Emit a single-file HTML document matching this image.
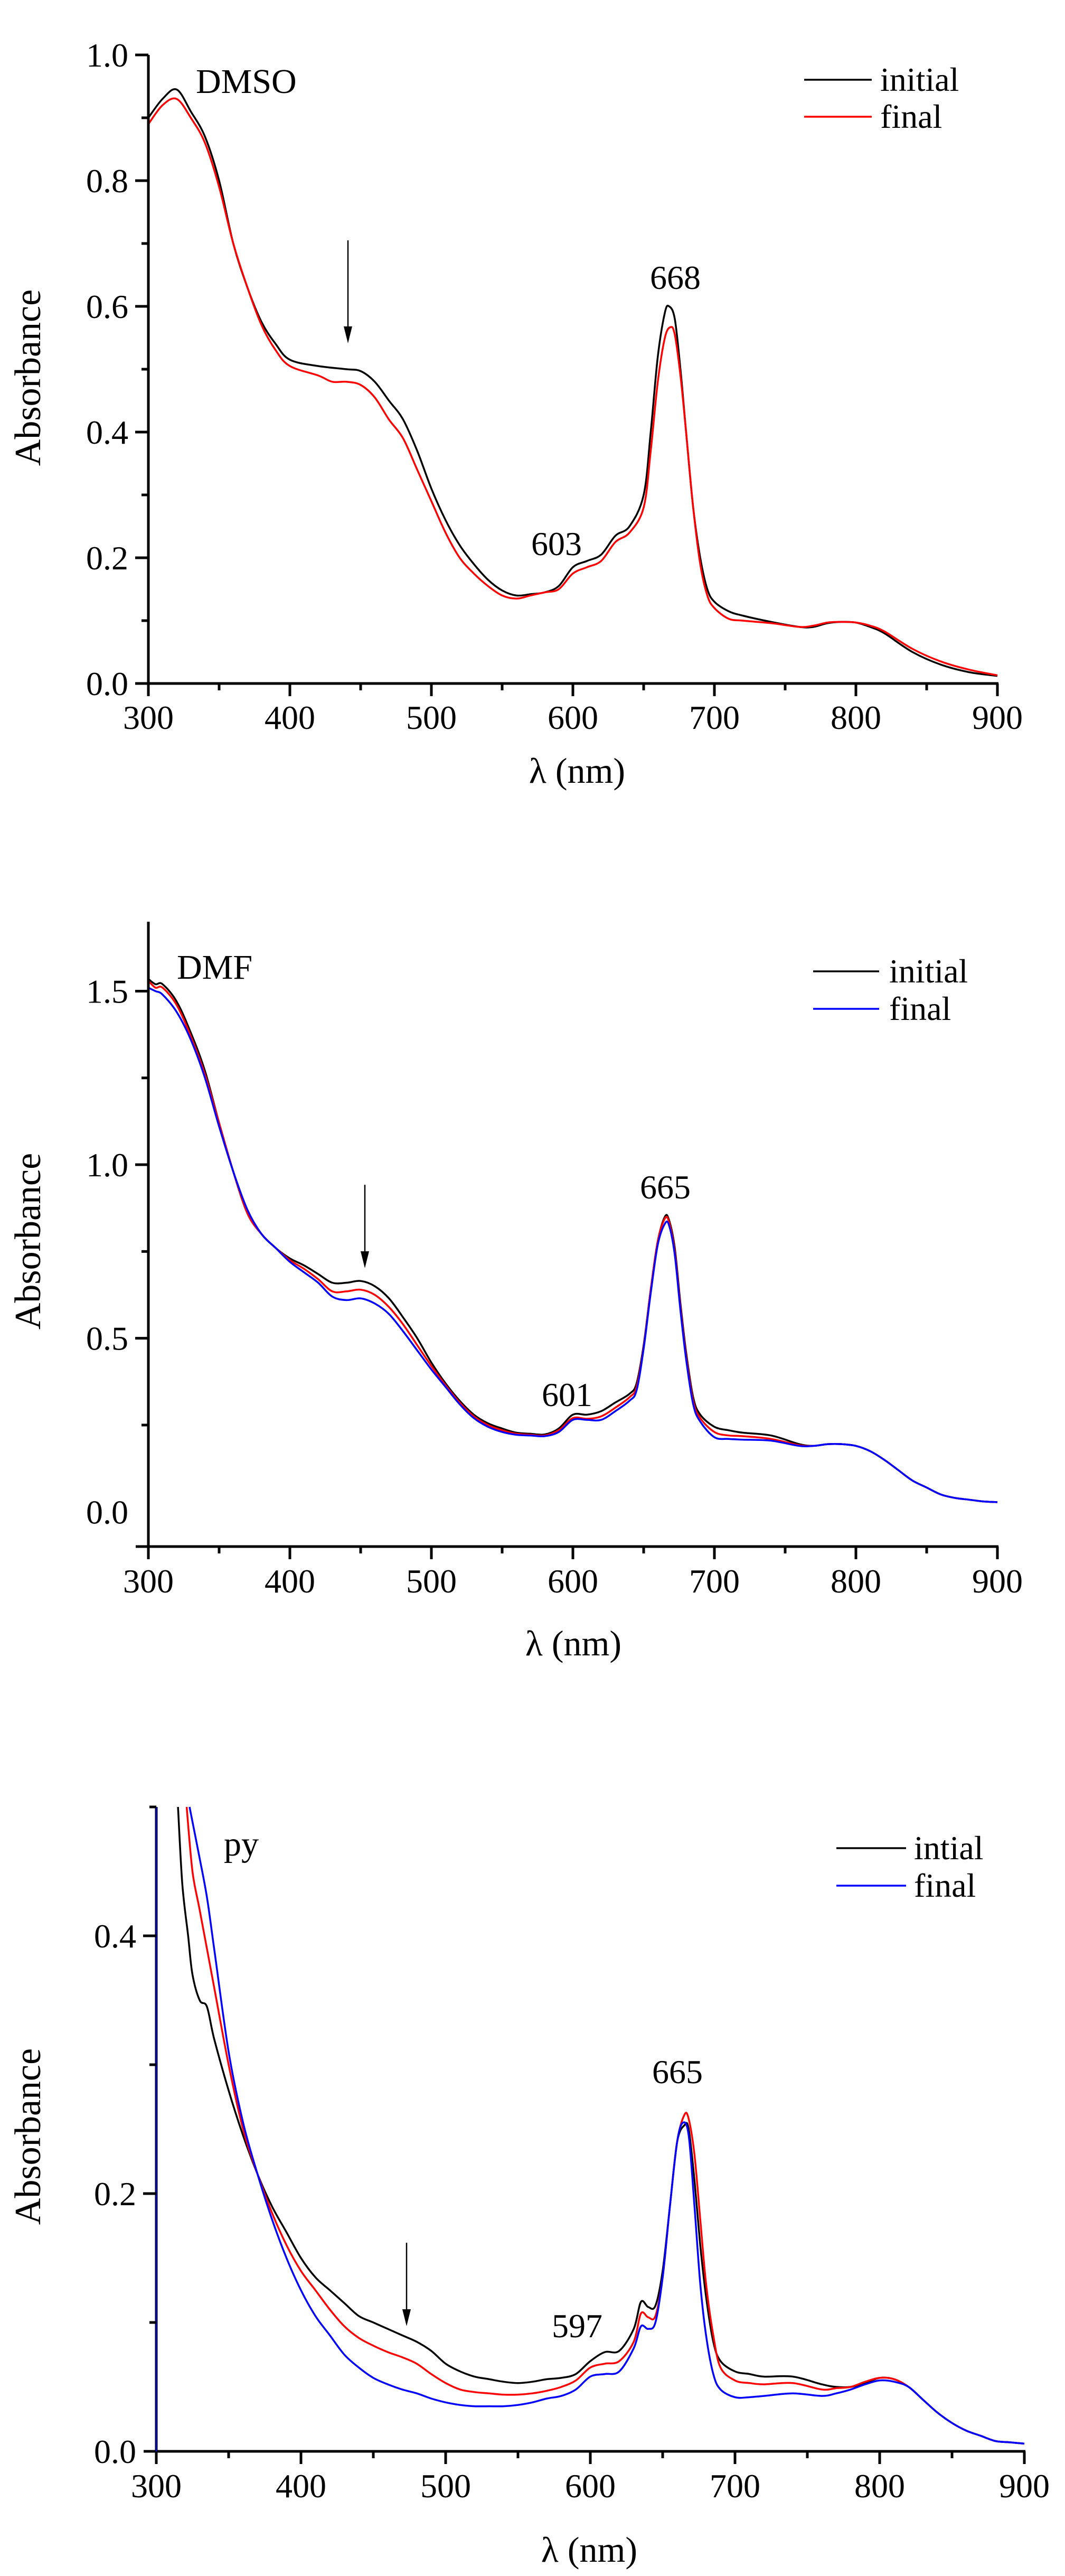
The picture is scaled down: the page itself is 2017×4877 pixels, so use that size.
<!DOCTYPE html>
<html><head><meta charset="utf-8"><style>
html,body{margin:0;padding:0;background:#fff;}
svg{display:block;font-family:"Liberation Serif","DejaVu Serif","Times New Roman",serif;}
text{font-family:"Liberation Serif","DejaVu Serif","Times New Roman",serif;fill:#000;}
</style></head><body>
<svg id="fig" width="2017" height="4877" viewBox="0 0 2017 4877" xmlns="http://www.w3.org/2000/svg"></svg>
<script>
// ---- Chart 1 (DMSO) data ----
const dmsoInitX = [300,310,320,330,340,350,360,370,380,390,400,420,440,450,460,470,480,490,500,510,520,530,540,550,560,570,580,590,600,610,620,630,640,650,655,660,665,668,672,676,680,685,690,695,700,710,720,740,760,770,780,790,800,810,820,840,860,880,900];
const dmsoInitY = [0.90,0.93,0.945,0.91,0.87,0.80,0.70,0.63,0.575,0.54,0.515,0.505,0.50,0.497,0.48,0.45,0.42,0.37,0.31,0.26,0.22,0.19,0.165,0.148,0.14,0.142,0.145,0.155,0.185,0.195,0.205,0.235,0.25,0.30,0.40,0.52,0.59,0.60,0.58,0.50,0.40,0.28,0.20,0.15,0.13,0.115,0.108,0.098,0.09,0.09,0.096,0.098,0.097,0.09,0.08,0.05,0.03,0.018,0.012];
const dmsoFinalX = [300,310,320,330,340,350,360,370,380,390,400,420,430,440,450,460,470,480,490,500,510,520,530,540,550,560,570,580,590,600,610,620,630,640,650,655,660,665,669,672,676,680,685,690,695,700,710,720,740,760,770,780,790,800,810,820,840,860,880,900];
const dmsoFinalY = [0.89,0.92,0.93,0.90,0.86,0.79,0.70,0.63,0.57,0.53,0.505,0.49,0.48,0.48,0.475,0.455,0.42,0.39,0.34,0.29,0.24,0.20,0.175,0.155,0.14,0.135,0.14,0.145,0.15,0.175,0.185,0.195,0.225,0.24,0.28,0.37,0.48,0.55,0.567,0.555,0.49,0.40,0.28,0.19,0.14,0.12,0.103,0.10,0.096,0.09,0.092,0.097,0.098,0.097,0.092,0.083,0.055,0.035,0.022,0.013];
const dmsoYTicks = [0.0,0.2,0.4,0.6,0.8,1.0];
const dmsoYLabels = ["0.0","0.2","0.4","0.6","0.8","1.0"];

// ---- Chart 2 (DMF) data ----
const dmfX = [300,305,310,320,330,340,350,360,370,380,390,400,410,420,430,440,450,460,470,480,490,500,510,520,530,540,550,560,570,580,590,600,610,620,630,640,645,650,655,660,665,668,672,676,680,685,690,700,710,720,740,760,770,780,790,800,810,820,830,840,850,860,870,880,890,900];
const dmfInitY = [1.535,1.52,1.52,1.47,1.38,1.27,1.12,0.98,0.86,0.80,0.76,0.73,0.71,0.685,0.66,0.66,0.665,0.65,0.615,0.56,0.50,0.43,0.37,0.32,0.28,0.255,0.24,0.228,0.225,0.223,0.24,0.28,0.28,0.29,0.315,0.34,0.37,0.48,0.64,0.78,0.85,0.84,0.76,0.60,0.46,0.33,0.28,0.245,0.235,0.228,0.22,0.195,0.19,0.195,0.195,0.19,0.175,0.15,0.12,0.09,0.07,0.05,0.04,0.035,0.03,0.028];
const dmfMidY = [1.53,1.51,1.51,1.46,1.37,1.26,1.12,0.98,0.86,0.80,0.76,0.725,0.70,0.67,0.635,0.635,0.64,0.625,0.59,0.54,0.48,0.42,0.365,0.315,0.275,0.25,0.235,0.225,0.222,0.22,0.235,0.27,0.268,0.275,0.30,0.33,0.36,0.475,0.64,0.78,0.845,0.835,0.75,0.59,0.45,0.32,0.27,0.23,0.22,0.218,0.21,0.192,0.19,0.195,0.195,0.19,0.175,0.15,0.12,0.09,0.07,0.05,0.04,0.035,0.03,0.028];
const dmfFinalY = [1.51,1.50,1.49,1.44,1.36,1.25,1.11,0.98,0.87,0.80,0.76,0.72,0.69,0.66,0.62,0.61,0.615,0.60,0.57,0.52,0.465,0.41,0.36,0.31,0.27,0.245,0.23,0.222,0.22,0.218,0.23,0.265,0.265,0.265,0.29,0.32,0.35,0.47,0.63,0.77,0.83,0.825,0.74,0.58,0.44,0.31,0.26,0.215,0.21,0.208,0.205,0.19,0.19,0.195,0.195,0.19,0.175,0.15,0.12,0.09,0.07,0.05,0.04,0.035,0.03,0.028];
const dmfYTicks = [0.0,0.5,1.0,1.5];
const dmfYLabels = ["0.0","0.5","1.0","1.5"];

// ---- Chart 3 (py) data ----
const pyInitX = [315,318,322,325,330,335,340,350,360,370,380,390,400,410,420,430,440,450,460,470,480,490,500,510,520,530,540,550,560,570,580,590,600,610,620,630,635,640,645,650,655,660,665,668,672,676,680,685,690,700,710,720,740,760,770,780,790,800,810,820,830,840,850,860,870,880,890,900];
const pyInitY = [0.5,0.44,0.40,0.37,0.35,0.345,0.32,0.28,0.245,0.215,0.19,0.17,0.15,0.135,0.125,0.115,0.105,0.10,0.095,0.09,0.085,0.078,0.068,0.062,0.058,0.056,0.054,0.053,0.054,0.056,0.057,0.06,0.07,0.077,0.078,0.095,0.116,0.112,0.113,0.14,0.19,0.24,0.253,0.25,0.21,0.16,0.12,0.085,0.07,0.062,0.06,0.058,0.058,0.052,0.05,0.05,0.053,0.057,0.056,0.05,0.04,0.03,0.022,0.016,0.012,0.008,0.007,0.006];
const pyMidX = [321,325,330,340,350,360,370,380,390,400,410,420,430,440,450,460,470,480,490,500,510,520,530,540,550,560,570,580,590,600,610,620,630,635,640,645,650,655,660,665,668,672,676,680,685,690,700,710,720,740,760,770,780,790,800,810,820,830,840,850,860,870,880,890,900];
const pyMidY = [0.5,0.45,0.42,0.36,0.30,0.25,0.215,0.185,0.16,0.14,0.125,0.11,0.097,0.088,0.082,0.077,0.073,0.068,0.06,0.053,0.048,0.046,0.045,0.044,0.044,0.045,0.047,0.05,0.055,0.065,0.068,0.07,0.085,0.107,0.104,0.105,0.135,0.19,0.24,0.261,0.258,0.23,0.18,0.13,0.09,0.065,0.055,0.053,0.052,0.053,0.048,0.049,0.05,0.054,0.057,0.056,0.05,0.04,0.03,0.022,0.016,0.012,0.008,0.007,0.006];
const pyFinalX = [323,330,335,340,350,360,370,380,390,400,410,420,430,440,450,460,470,480,490,500,510,520,530,540,550,560,570,580,590,600,610,620,630,635,640,645,650,655,660,664,668,672,676,680,685,690,700,710,720,740,760,770,780,790,800,810,820,830,840,850,860,870,880,890,900];
const pyFinalY = [0.5,0.46,0.43,0.39,0.31,0.255,0.215,0.18,0.15,0.125,0.105,0.09,0.075,0.065,0.057,0.052,0.048,0.045,0.041,0.038,0.036,0.035,0.035,0.035,0.036,0.038,0.041,0.043,0.048,0.058,0.06,0.062,0.08,0.097,0.095,0.10,0.135,0.19,0.24,0.255,0.245,0.19,0.13,0.09,0.06,0.048,0.042,0.042,0.043,0.045,0.043,0.045,0.048,0.052,0.055,0.054,0.05,0.04,0.03,0.022,0.016,0.012,0.008,0.007,0.006];
const pyYTicks = [0.0,0.2,0.4];
const pyYLabels = ["0.0","0.2","0.4"];

const xTicks = [300,400,500,600,700,800,900];
const xLabels = ["300","400","500","600","700","800","900"];

const NS = "http://www.w3.org/2000/svg";
const FONT = '"Liberation Serif", "DejaVu Serif", "Times New Roman", serif';
const fig = document.getElementById('fig');
function mk(tag, attrs, parent, txt){
  const e = document.createElementNS(NS, tag);
  for (const k in attrs) e.setAttribute(k, attrs[k]);
  if (tag === 'text') e.style.fontFamily = FONT;
  if (txt !== undefined) e.textContent = txt;
  (parent || fig).appendChild(e);
  return e;
}
function smoothPath(pts){
  let d = 'M' + pts[0][0].toFixed(1) + ' ' + pts[0][1].toFixed(1);
  for (let i = 0; i < pts.length - 1; i++) {
    const p0 = pts[Math.max(0, i - 1)], p1 = pts[i], p2 = pts[i + 1], p3 = pts[Math.min(pts.length - 1, i + 2)];
    const c1x = p1[0] + (p2[0] - p0[0]) / 6, c1y = p1[1] + (p2[1] - p0[1]) / 6;
    const c2x = p2[0] - (p3[0] - p1[0]) / 6, c2y = p2[1] - (p3[1] - p1[1]) / 6;
    d += 'C' + c1x.toFixed(1) + ' ' + c1y.toFixed(1) + ' ' + c2x.toFixed(1) + ' ' + c2y.toFixed(1) + ' ' + p2[0].toFixed(1) + ' ' + p2[1].toFixed(1);
  }
  return d;
}

function chart(cfg){
  const g = mk('g', {});
  
  
  const sx = v => cfg.x0 + (v - 300) / 600 * (cfg.x1 - cfg.x0);
  const sy = v => cfg.yb - (v - cfg.ymin) / (cfg.ymax - cfg.ymin) * (cfg.yb - cfg.yt);
  const y0 = sy(cfg.ymin);
  cfg.series.forEach(s => {
    const pts = s.x.map((xv, i) => [sx(xv), sy(s.y[i])]);
    const p = mk('path', {d: smoothPath(pts), fill: 'none', stroke: s.color, 'stroke-width': 3.5, 'stroke-linejoin': 'round'}, g);
    
    
  });
  const ax = mk('line', {x1: cfg.x0 - 24, y1: y0, x2: cfg.x1 + 2, y2: y0, stroke: '#000', 'stroke-width': 5}, g);
  
  
  const ay = mk('line', {x1: cfg.x0, y1: cfg.yt, x2: cfg.x0, y2: y0 + 24, stroke: '#000', 'stroke-width': 5}, g);
  
  
  if (cfg.blueAxis) mk('line', {x1: cfg.x0, y1: cfg.yt, x2: cfg.x0, y2: y0, stroke: '#0000ff', 'stroke-width': 2}, g);
  for (let v = 300; v <= 900; v += 50) {
    const major = v % 100 === 0;
    mk('line', {x1: sx(v), y1: y0, x2: sx(v), y2: y0 + (major ? 24 : 13), stroke: '#000', 'stroke-width': 5}, g);
  }
  xTicks.forEach((v, i) => {
    const t = mk('text', {x: sx(v), y: cfg.xlabY, 'font-size': 64, 'text-anchor': 'middle'}, g, xLabels[i]);
    
    
  });
  for (let k = 0; ; k++) {
    const v = cfg.minorStart + k * cfg.minorStep;
    if (v > cfg.ymax + 1e-9) break;
    if (v < cfg.ymin - 1e-9) continue;
    const isMajor = cfg.yTicks.some(m => Math.abs(m - v) < 1e-6);
    mk('line', {x1: cfg.x0, y1: sy(v), x2: cfg.x0 - (isMajor ? 25 : 13), y2: sy(v), stroke: '#000', 'stroke-width': 5}, g);
  }
  cfg.yTicks.forEach((v, i) => {
    const t = mk('text', {x: cfg.ylabX, y: sy(v) + 22, 'font-size': 64, 'text-anchor': 'end'}, g, cfg.yLabels[i]);
    
    
  });
  const xt = mk('text', {x: cfg.xtX, y: cfg.xtY, 'font-size': 68, 'text-anchor': 'middle'}, g, 'λ (nm)');
  
  
  const yt = mk('text', {x: 0, y: 0, 'font-size': 70, 'text-anchor': 'middle', transform: 'translate(76,' + cfg.ytY + ') rotate(-90)'}, g, 'Absorbance');
  
  
  const sl = mk('text', {x: cfg.solX, y: cfg.solY, 'font-size': 66}, g, cfg.solvent);
  
  
  cfg.peaks.forEach(pk => {
    const t = mk('text', {x: pk.x, y: pk.y, 'font-size': 64, 'text-anchor': 'middle'}, g, pk.t);
    
    
  });
  const a = cfg.arrow;
  const al = mk('line', {x1: a.x, y1: a.y1, x2: a.x, y2: a.y2 - 20, stroke: '#000', 'stroke-width': 2.5}, g);
  
  
  mk('polygon', {points: (a.x - 8) + ',' + (a.y2 - 32) + ' ' + (a.x + 8) + ',' + (a.y2 - 32) + ' ' + a.x + ',' + a.y2, fill: '#000'}, g);
  cfg.legend.forEach(le => {
    const lg = mk('g', {}, g);
    
    
    mk('line', {x1: cfg.legX1, y1: le.y, x2: cfg.legX2, y2: le.y, stroke: le.color, 'stroke-width': 3.5}, lg);
    mk('text', {x: cfg.legTX, y: le.y + 21, 'font-size': 64}, lg, le.t);
  });
}

chart({name: 'chart-dmso', x0: 281, x1: 1889, yt: 104, yb: 1294, ymin: 0, ymax: 1.0,
  yTicks: dmsoYTicks, yLabels: dmsoYLabels, minorStart: 0, minorStep: 0.1, ylabX: 243,
  xlabY: 1380, xtX: 1093, xtY: 1482, ytY: 715, solvent: 'DMSO', solX: 371, solY: 176,
  peaks: [{t: '668', x: 1279, y: 547}, {t: '603', x: 1054, y: 1051}],
  arrow: {x: 659, y1: 455, y2: 650},
  legX1: 1523, legX2: 1651, legTX: 1667,
  legend: [{t: 'initial', color: '#000', y: 151}, {t: 'final', color: '#ff0000', y: 221}],
  series: [{name: 'dmso-initial-line', color: '#000', x: dmsoInitX, y: dmsoInitY},
           {name: 'dmso-final-line', color: '#ff0000', x: dmsoFinalX, y: dmsoFinalY}]});

chart({name: 'chart-dmf', x0: 281, x1: 1889, yt: 1745, yb: 2928, ymin: -0.1, ymax: 1.7,
  yTicks: dmfYTicks, yLabels: dmfYLabels, minorStart: 0.25, minorStep: 0.25, ylabX: 243,
  xlabY: 3015, xtX: 1086, xtY: 3134, ytY: 2350, solvent: 'DMF', solX: 335, solY: 1853,
  peaks: [{t: '665', x: 1260, y: 2269}, {t: '601', x: 1074, y: 2662}],
  arrow: {x: 691, y1: 2243, y2: 2401},
  legX1: 1540, legX2: 1665, legTX: 1684,
  legend: [{t: 'initial', color: '#000', y: 1839}, {t: 'final', color: '#0000ff', y: 1910}],
  series: [{name: 'dmf-initial-line', color: '#000', x: dmfX, y: dmfInitY},
           {name: 'dmf-intermediate-line', color: '#ff0000', x: dmfX, y: dmfMidY},
           {name: 'dmf-final-line', color: '#0000ff', x: dmfX, y: dmfFinalY}]});

chart({name: 'chart-py', x0: 296, x1: 1940, yt: 3421, yb: 4641, ymin: 0, ymax: 0.5,
  yTicks: pyYTicks, yLabels: pyYLabels, minorStart: 0.1, minorStep: 0.1, ylabX: 258, blueAxis: true,
  xlabY: 4728, xtX: 1116, xtY: 4850, ytY: 4045, solvent: 'py', solX: 424, solY: 3513,
  peaks: [{t: '665', x: 1283, y: 3944}, {t: '597', x: 1093, y: 4425}],
  arrow: {x: 770, y1: 4246, y2: 4404},
  legX1: 1584, legX2: 1716, legTX: 1731,
  legend: [{t: 'intial', color: '#000', y: 3499}, {t: 'final', color: '#0000ff', y: 3570}],
  series: [{name: 'py-initial-line', color: '#000', x: pyInitX, y: pyInitY},
           {name: 'py-intermediate-line', color: '#ff0000', x: pyMidX, y: pyMidY},
           {name: 'py-final-line', color: '#0000ff', x: pyFinalX, y: pyFinalY}]});
</script>
</body></html>
